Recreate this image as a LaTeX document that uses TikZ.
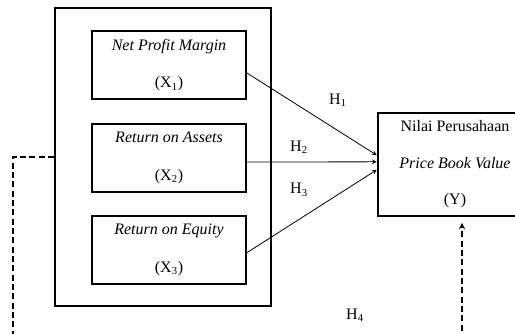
\documentclass[tikz,border=0pt]{standalone}
\usepackage{fontspec}
\setmainfont{Liberation Serif}
\usetikzlibrary{arrows,positioning,calc}

\begin{document}
\begin{tikzpicture}[
    x=0.75pt, y=-0.75pt,
    every node/.style={font=\fontsize{12}{14.4}\selectfont},
    frame/.style={rectangle, draw, line width=1.4pt, minimum width=162pt, minimum height=223.5pt},
    varbox/.style={rectangle, draw, line width=1.4pt, align=center, minimum width=115.5pt, minimum height=51pt, inner sep=0pt},
    depbox/.style={rectangle, draw, line width=1.4pt, align=center, minimum width=116pt, minimum height=77pt, inner sep=0pt},
    arrow/.style={->, >=stealth, line width=0.6pt},
    dasharrow/.style={dashed, line width=1.2pt, dash pattern=on 4.5pt off 2.5pt}
]
\useasboundingbox (0,0) rectangle (515,333);
\clip (0,0) rectangle (515,333);

% Outer box with the three ratios
\node[frame] (rasio) at (163,157) {};
\node[varbox] (npm) at (169,65) {\textit{Net Profit Margin}\\[14pt](X\textsubscript{1})};
\node[varbox] (roa) at (169,158) {\textit{Return on Assets}\\[14pt](X\textsubscript{2})};
\node[varbox] (roe) at (169,250) {\textit{Return on Equity}\\[14pt](X\textsubscript{3})};

% Dependent variable
\node[depbox] (pbv) at (455,164.5) {Nilai Perusahaan\\[13pt]\textit{Price Book Value}\\[13pt](Y)};

% Hypothesis arrows
\draw[arrow] ([yshift=-6pt]npm.east) -- ([yshift=7pt]pbv.west);
\draw[arrow] ([yshift=-3pt]roa.east) -- ([yshift=2pt]pbv.west);
\draw[arrow] ([yshift=-2pt]roe.east) -- ([yshift=-4pt]pbv.west);

% Hypothesis labels
\node (h1) at (338,100) {H\textsubscript{1}};
\node (h2) at (299,147) {H\textsubscript{2}};
\node (h3) at (299,190) {H\textsubscript{3}};
\node (h4) at (355,315) {H\textsubscript{4}};

% Simultaneous path (dashed)
\coordinate (kiri) at (13,340);
\coordinate (ytip) at ($(pbv.south)+(7,6)$);
\coordinate (kanan) at (ytip |- kiri);
\draw[dasharrow] (rasio.west) -| (kiri);
\draw[dasharrow, ->, >=stealth] (kanan) -- (ytip);

\end{tikzpicture}
\end{document}
